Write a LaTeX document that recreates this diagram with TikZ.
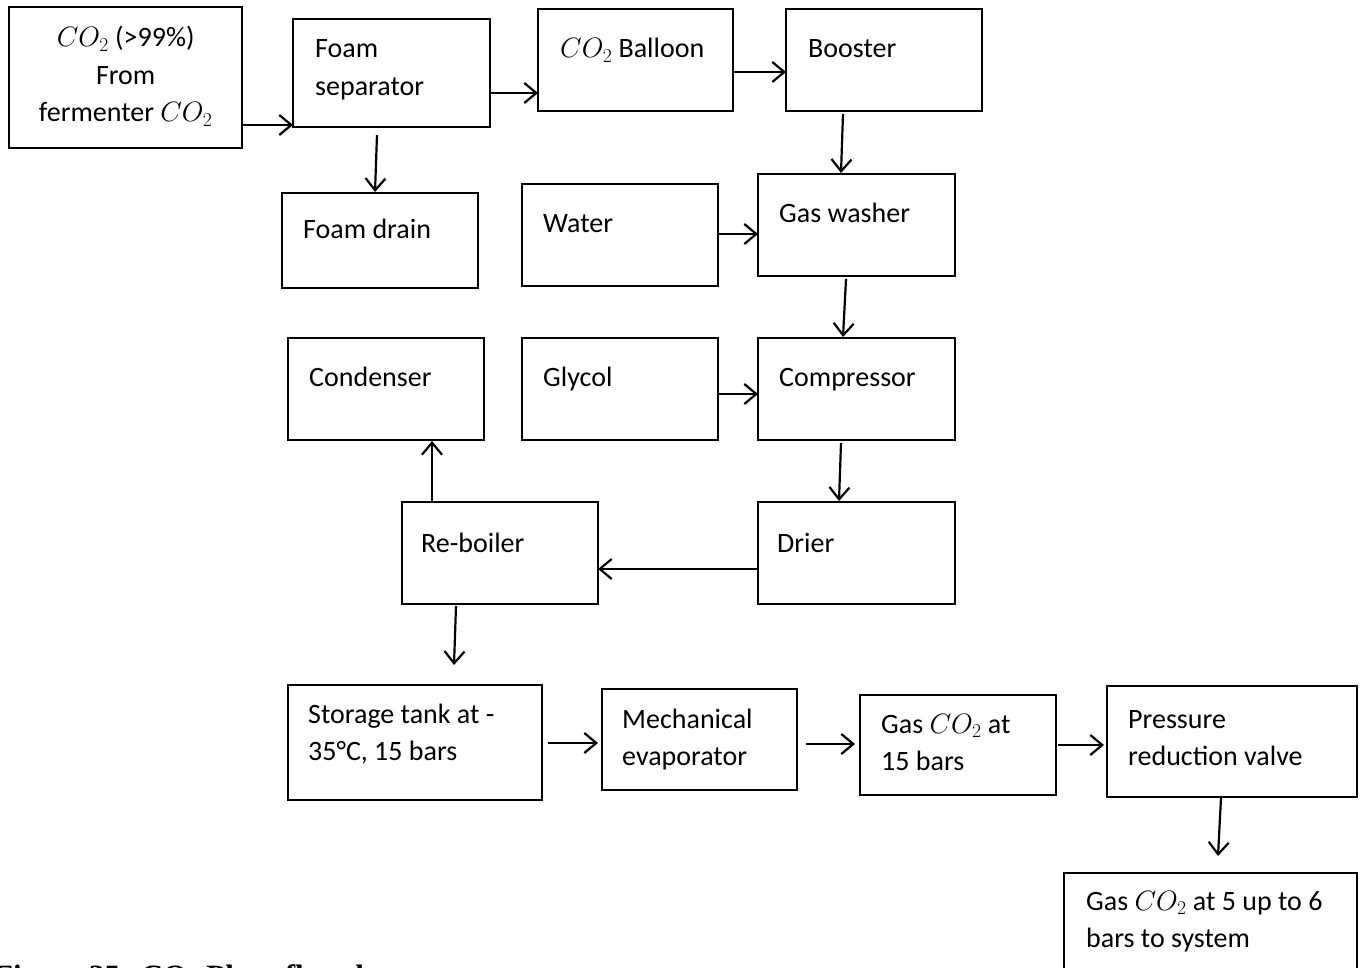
\RequirePackage{fix-cm}
\documentclass[tikz,border=0pt]{standalone}
\usepackage{fontspec}
\setmainfont{Carlito}
\newfontfamily\capfont{Liberation Serif}
\usetikzlibrary{arrows.meta,calc}

\tikzset{
  box/.style={draw, line width=2.6pt, rectangle, inner sep=0pt, outer sep=0pt, anchor=north west},
  lbl/.style={inner sep=0pt, anchor=base west, font=\fontsize{28}{37.5}\selectfont},
  flow/.style={line width=2.2pt, -{Straight Barb[length=12pt,width=20pt]}},
}

% \procbox{name}{x1}{y1}{x2}{y2}{text dx}{text dy}{text}
\newcommand\procbox[8]{%
  \node[box, minimum width=#4-#2, minimum height=#5-#3] (#1) at (#2,#3) {};
  \node[lbl] (#1-text) at ($(#1.north west)+(#6,#7)$) {\parbox[t]{400pt}{\raggedright #8}};
}

\begin{document}
\begin{tikzpicture}[x=1pt, y=-1pt]
  \path[use as bounding box] (0,0) rectangle (1363,968);
  \clip (0,0) rectangle (1363,968);

  % source box with centred text
  \node[box, minimum width=233, minimum height=141] (src) at (9,7) {};
  \node[lbl] (src-text) at ($(src.north west)+(0,40)$)
    {\parbox[t]{233pt}{\centering $CO_2$ (>99\%)\\From\\fermenter $CO_2$}};

  \procbox{foamsep}{293}{19}{490}{127}{22}{39}{Foam\\separator}
  \procbox{balloon}{538}{9}{733}{111}{22}{49}{$CO_2$ Balloon}
  \procbox{booster}{786}{9}{982}{111}{22}{49}{Booster}
  \procbox{drain}{282}{193}{478}{288}{21}{46}{Foam drain}
  \procbox{water}{522}{184}{718}{286}{21}{49}{Water}
  \procbox{washer}{758}{174}{955}{276}{21}{49}{Gas washer}
  \procbox{condenser}{288}{338}{484}{440}{21}{48}{Condenser}
  \procbox{glycol}{522}{338}{718}{440}{21}{48}{Glycol}
  \procbox{compressor}{758}{338}{955}{440}{21}{48}{Compressor}
  \procbox{reboiler}{402}{502}{598}{604}{19}{50}{Re-boiler}
  \procbox{drier}{758}{502}{955}{604}{19}{50}{Drier}
  \procbox{storage}{288}{685}{542}{800}{20}{38}{Storage tank at -\\35\textdegree C, 15 bars}
  \procbox{mech}{602}{689}{797}{790}{20}{39}{Mechanical\\evaporator}
  \procbox{gasfifteen}{860}{695}{1056}{795}{21}{38}{Gas $CO_2$ at\\15 bars}
  \procbox{prv}{1107}{686}{1357}{797}{21}{42}{Pressure\\reduction valve}
  \procbox{final}{1064}{873}{1357}{995}{22}{37}{Gas $CO_2$ at 5 up to 6\\bars to system}

  % connectors
  \draw[flow] ($(src.north east)+(0,118)$) -- ($(foamsep.north west)+(0,106)$);
  \draw[flow] ($(foamsep.north east)+(0,74)$) -- ($(balloon.north west)+(0,84)$);
  \draw[flow] ($(balloon.north east)+(0,63)$) -- ($(booster.north west)+(0,63)$);
  \draw[flow] ($(booster.south west)+(57,3)$) -- ($(washer.north west)+(83,-1)$);
  \draw[flow] ($(foamsep.south west)+(84,8)$) -- ($(drain.north west)+(93,-1)$);
  \draw[flow] ($(water.north east)+(0,50)$) -- ($(washer.north west)+(0,60)$);
  \draw[flow] ($(washer.south west)+(88,3)$) -- ($(compressor.north west)+(85,-1)$);
  \draw[flow] ($(glycol.north east)+(0,56)$) -- ($(compressor.north west)+(0,56)$);
  \draw[flow] ($(compressor.south west)+(83,3)$) -- ($(drier.north west)+(81,-1)$);
  \draw[flow] ($(drier.north west)+(0,67)$) -- ($(reboiler.north east)+(0,67)$);
  \draw[flow] ($(reboiler.north west)+(30,0)$) -- ($(condenser.south west)+(144,1)$);
  \coordinate (tankin) at ($(storage.north west)+(166,-20)$);
  \draw[flow] ($(reboiler.south west)+(54,2)$) -- (tankin);
  \draw[flow] ($(storage.north east)+(6,58)$) -- ($(mech.north west)+(-4,54)$);
  \draw[flow] ($(mech.north east)+(9,55)$) -- ($(gasfifteen.north west)+(-5,49)$);
  \draw[flow] ($(gasfifteen.north east)+(2,50)$) -- ($(prv.north west)+(-3,59)$);
  \draw[flow] ($(prv.south west)+(114,1)$) -- ($(final.north west)+(154,-17)$);

  % figure caption, running off the lower edge
  \node[inner sep=0pt, anchor=base west, font=\capfont\bfseries\fontsize{31}{37}\selectfont]
    (caption) at (-6,986) {Figure 35: CO\textsubscript{2} Plant flowchart};
\end{tikzpicture}
\end{document}
